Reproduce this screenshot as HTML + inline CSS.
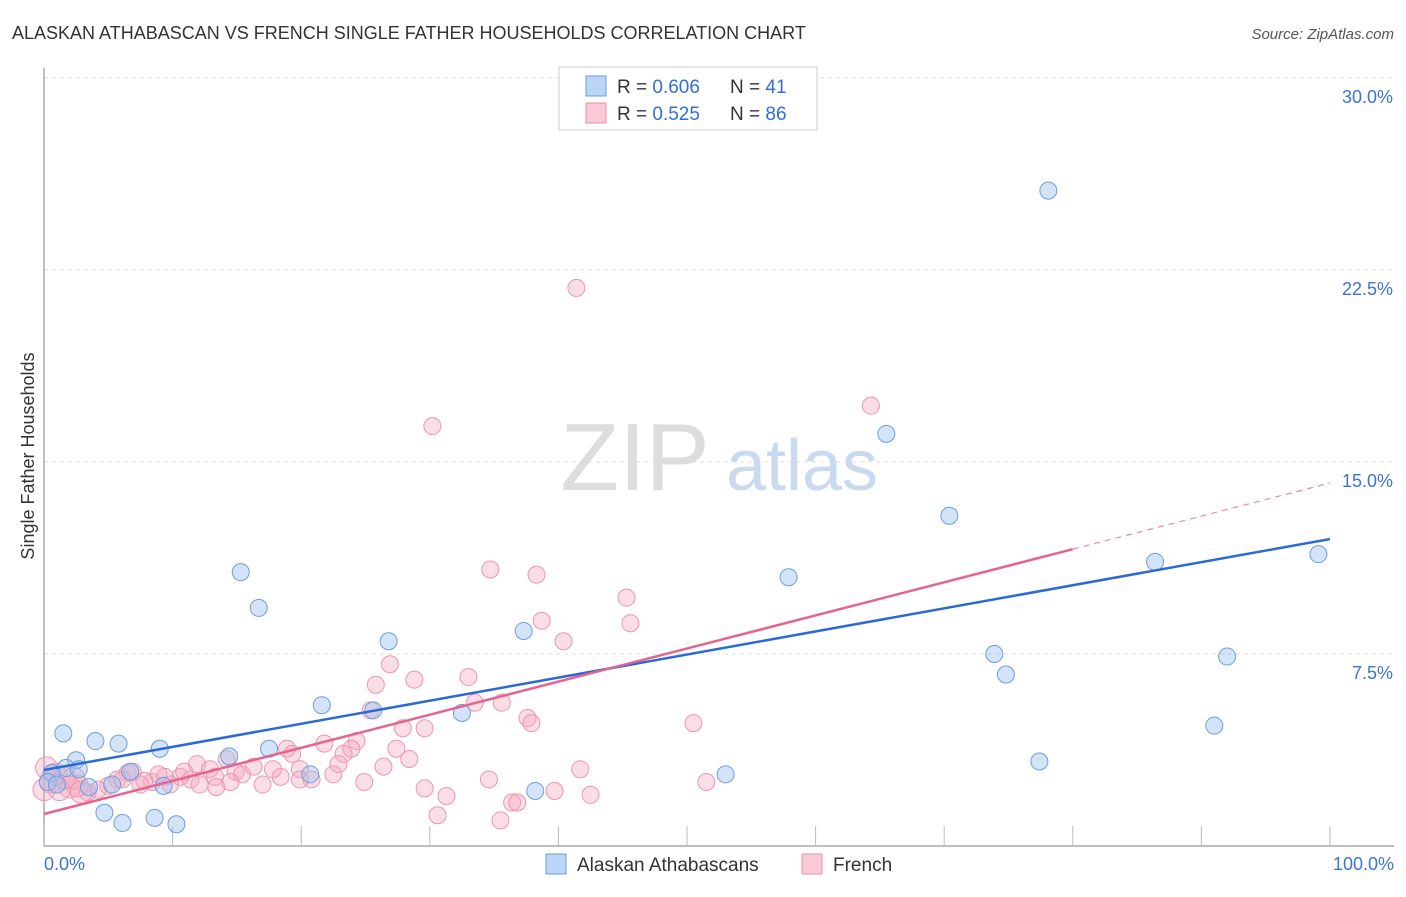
<!DOCTYPE html>
<html><head><meta charset="utf-8"><style>
body{margin:0;background:#fff;font-family:"Liberation Sans",sans-serif;}
svg text{font-family:"Liberation Sans",sans-serif;}
</style></head><body>
<svg id="chart" width="1406" height="892" viewBox="0 0 1406 892">
<text x="12" y="39" font-size="18" fill="#333">ALASKAN ATHABASCAN VS FRENCH SINGLE FATHER HOUSEHOLDS CORRELATION CHART</text>
<text x="1394" y="39" font-size="15" fill="#555" font-style="italic" text-anchor="end">Source: ZipAtlas.com</text>
<text x="34" y="456" font-size="18" fill="#333" text-anchor="middle" transform="rotate(-90 34 456)">Single Father Households</text>
<g>
<text x="635" y="490" font-size="96" fill="#ddd" font-family="Liberation Serif" text-anchor="middle">ZIP</text>
<text x="802" y="490" font-size="72" fill="#c9daf0" text-anchor="middle">atlas</text>
</g>
<g id="grid"></g><g id="axes"></g><g id="pts"></g><g id="lines"></g>
<g>
<rect x="559" y="67" width="258" height="63" fill="#fff" stroke="#ccc"/>
<rect x="586" y="76" width="20" height="20" fill="#bcd4f5" stroke="#6a9be0"/>
<rect x="586" y="103" width="20" height="20" fill="#f9c9d6" stroke="#ea8faa"/>
<text x="617" y="93" font-size="19" fill="#333">R = <tspan fill="#2f6fd6">0.606</tspan></text>
<text x="730" y="93" font-size="19" fill="#333">N = <tspan fill="#2f6fd6"> 41</tspan></text>
<text x="617" y="120" font-size="19" fill="#333">R = <tspan fill="#2f6fd6"> 0.525</tspan></text>
<text x="730" y="120" font-size="19" fill="#333">N = <tspan fill="#2f6fd6">86</tspan></text>
</g>
<g>
<rect x="546" y="854" width="20" height="20" fill="#bcd4f5" stroke="#6a9be0"/>
<text x="577" y="871" font-size="19" fill="#333">Alaskan Athabascans</text>
<rect x="802" y="854" width="20" height="20" fill="#f9c9d6" stroke="#ea8faa"/>
<text x="833" y="871" font-size="19" fill="#333">French</text>
</g>
</svg>
<script>
const yTicks=[7.5,15,22.5,30];
const yTickLabels=["7.5%","15.0%","22.5%","30.0%"];
const xTicks=[0,10,20,30,40,50,60,70,80,90,100];
const blueX=[78.1,65.5,70.4,99.1,86.4,57.9,15.3,16.7,26.8,37.3,73.9,74.8,92.0,21.6,25.6,32.5,91.0,1.5,4.0,5.8,9.0,14.4,17.5,77.4,53.0,2.5,1.7,2.7,6.7,0.6,20.7,9.3,38.2,0.3,4.7,6.1,8.6,10.3,3.5,5.3,1.0];
const blueY=[25.6,16.1,12.9,11.4,11.1,10.5,10.7,9.3,8.0,8.4,7.5,6.7,7.4,5.5,5.3,5.2,4.7,4.4,4.1,4.0,3.8,3.5,3.8,3.3,2.8,3.35,3.05,3.0,2.9,2.85,2.8,2.35,2.15,2.5,1.3,0.9,1.1,0.85,2.3,2.4,2.4];
const pinkX=[41.4,64.3,30.2,34.7,38.3,45.3,38.7,45.6,40.4,26.9,33.0,25.8,28.8,33.5,35.6,25.4,37.6,37.9,50.5,27.9,29.6,21.8,24.3,23.9,18.9,19.3,27.4,23.3,22.9,26.4,28.4,41.7,34.6,51.5,19.9,22.5,18.4,17.8,20.8,24.9,14.2,14.9,15.4,16.3,17.0,11.9,12.9,13.3,10.6,11.4,9.4,8.4,13.4,7.5,6.5,5.7,5.0,4.2,3.4,2.6,2.0,1.2,0.5,0.2,0.9,1.6,0.0,2.3,2.9,29.6,31.3,39.7,42.5,30.6,35.5,36.4,36.8,6.9,14.5,19.9,12.1,9.8,10.9,8.9,6.1,7.8];
const pinkY=[21.8,17.2,16.4,10.8,10.6,9.7,8.8,8.7,8.0,7.1,6.6,6.3,6.5,5.6,5.6,5.3,5.0,4.8,4.8,4.6,4.6,4.0,4.1,3.8,3.8,3.6,3.8,3.6,3.2,3.1,3.4,3.0,2.6,2.5,3.0,2.8,2.7,3.0,2.6,2.5,3.4,2.9,2.8,3.1,2.4,3.2,3.0,2.7,2.7,2.6,2.7,2.5,2.3,2.4,2.85,2.6,2.35,2.2,2.1,2.35,2.3,2.2,2.5,3.05,2.8,2.65,2.2,2.65,2.1,2.25,1.95,2.15,2.0,1.2,1.0,1.7,1.7,2.9,2.5,2.6,2.4,2.4,2.9,2.8,2.6,2.55];
const blueFit=[2.97,0.0902];   // intercept, slope
const pinkFit=[1.25,0.1293];
const pinkFitEnd=80;
const X=v=>44+v*12.86, Y=v=>846-v*25.6;
const NS="http://www.w3.org/2000/svg";
function mk(t,a,p){const e=document.createElementNS(NS,t);for(const k in a)e.setAttribute(k,a[k]);p.appendChild(e);return e;}
const grid=document.getElementById('grid'),axes=document.getElementById('axes'),pts=document.getElementById('pts'),lines=document.getElementById('lines');
yTicks.forEach((t,i)=>{
 const g=mk('line',{x1:44,x2:1394,y1:Y(t),y2:Y(t),stroke:'#ddd','stroke-dasharray':'4,4'},grid);
 
 
 const l=mk('text',{x:1393,y:Y(t)+25,'font-size':18,fill:'#3a74d4','text-anchor':'end'},axes);
 l.textContent=yTickLabels[i];
 
 
});
const ax=mk('path',{d:`M44 68 V846 H1394`,stroke:'#aaa',fill:'none','stroke-width':1.5},axes);


xTicks.forEach(t=>{
 const tk=mk('line',{x1:X(t),x2:X(t),y1:826,y2:846,stroke:'#bbb'},axes);
 
 
});
const xl0=mk('text',{x:44,y:870,'font-size':18,fill:'#3a74d4'},axes);xl0.textContent='0.0%';


const xl1=mk('text',{x:1394,y:870,'font-size':18,fill:'#3a74d4','text-anchor':'end'},axes);xl1.textContent='100.0%';


pinkX.forEach((x,i)=>{
 const c=mk('circle',{cx:X(x),cy:Y(pinkY[i]),r:x<3?11:8.5,fill:'rgba(246,170,192,0.4)',stroke:'#eb97b0','stroke-width':1},pts);
 
 
});
blueX.forEach((x,i)=>{
 const c=mk('circle',{cx:X(x),cy:Y(blueY[i]),r:8.5,fill:'rgba(160,196,240,0.45)',stroke:'#6d9de0','stroke-width':1},pts);
 
 
});
const bl=mk('line',{x1:X(0),y1:Y(blueFit[0]),x2:X(100),y2:Y(blueFit[0]+blueFit[1]*100),stroke:'#2a6ad6','stroke-width':2.5},lines);


const pl=mk('line',{x1:X(0),y1:Y(pinkFit[0]),x2:X(pinkFitEnd),y2:Y(pinkFit[0]+pinkFit[1]*pinkFitEnd),stroke:'#e8628e','stroke-width':2.5},lines);


const pd=mk('line',{x1:X(pinkFitEnd),y1:Y(pinkFit[0]+pinkFit[1]*pinkFitEnd),x2:X(100),y2:Y(pinkFit[0]+pinkFit[1]*100),stroke:'#eb8aa9','stroke-width':1.2,'stroke-dasharray':'6,5'},lines);


</script>
</body></html>
